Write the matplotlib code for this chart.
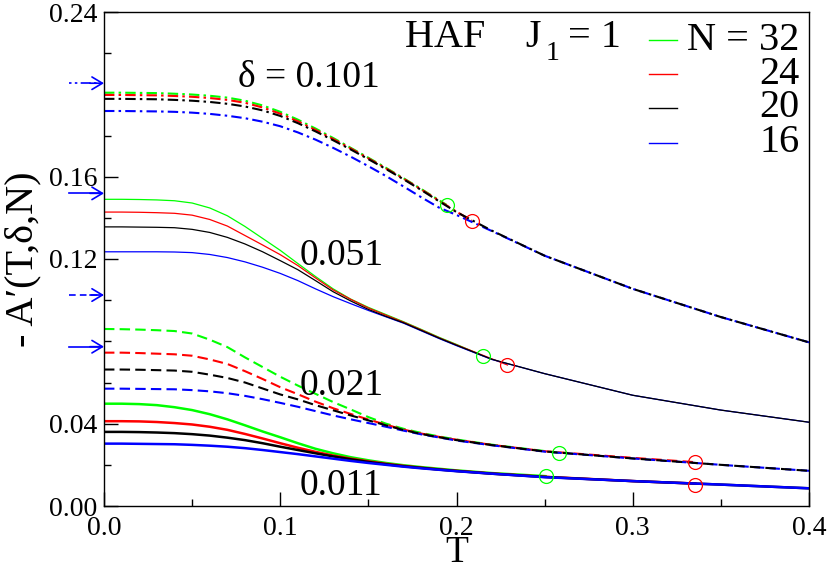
import glob
import matplotlib
matplotlib.use('Agg')
import matplotlib.pyplot as plt
from matplotlib import font_manager as fm
from matplotlib.transforms import blended_transform_factory

# make sure the Times-like serif font is registered
for f in glob.glob('/usr/share/fonts/**/LiberationSerif*.ttf', recursive=True):
    fm.fontManager.addfont(f)
FAMILY = 'Liberation Serif'
plt.rcParams['font.family'] = [FAMILY, 'DejaVu Serif']

t_grid = [0.0, 0.01, 0.02, 0.03, 0.04, 0.05, 0.06, 0.07, 0.08, 0.09, 0.10,
          0.11, 0.12, 0.13, 0.14, 0.15, 0.16, 0.17, 0.18, 0.19, 0.20,
          0.22, 0.25, 0.30, 0.35, 0.40]

# delta = 0.101
t101_32 = t_grid[:20] + [0.1944]
a101_32 = [0.2008, 0.2008, 0.2007, 0.2006, 0.2003, 0.1999, 0.1993, 0.1984, 0.1969, 0.1946, 0.1915,
           0.1877, 0.1834, 0.1788, 0.1740, 0.1692, 0.1643, 0.1592, 0.1540, 0.1486, 0.1463]
t101_24 = t_grid[:21] + [0.2086]
a101_24 = [0.1997, 0.1997, 0.1996, 0.1995, 0.1992, 0.1988, 0.1982, 0.1973, 0.1959, 0.1936, 0.1906,
           0.1869, 0.1827, 0.1783, 0.1737, 0.1689, 0.1640, 0.1590, 0.1538, 0.1484, 0.1430, 0.1386]
a101_20 = [0.1978, 0.1978, 0.1977, 0.1976, 0.1973, 0.1969, 0.1963, 0.1954, 0.1941, 0.1922, 0.1895,
           0.1860, 0.1820, 0.1777, 0.1732, 0.1685, 0.1637, 0.1587, 0.1535, 0.1481, 0.1428,
           0.1338, 0.1216, 0.1055, 0.0918, 0.0795]
a101_16 = [0.1919, 0.1919, 0.1918, 0.1917, 0.1915, 0.1911, 0.1905, 0.1896, 0.1884, 0.1867, 0.1845,
           0.1815, 0.1780, 0.1740, 0.1697, 0.1651, 0.1603, 0.1552, 0.1500, 0.1450, 0.1414,
           0.1336, 0.1216, 0.1055, 0.0918, 0.0795]

# delta = 0.051
t051_32 = t_grid[:21] + [0.2152]
a051_32 = [0.1490, 0.1490, 0.1489, 0.1487, 0.1483, 0.1472, 0.1448, 0.1410, 0.1358, 0.1300, 0.1242,
           0.1178, 0.1115, 0.1055, 0.1005, 0.0965, 0.0930, 0.0895, 0.0858, 0.0820, 0.0785, 0.0729]
t051_24 = t_grid[:21] + [0.2289]
a051_24 = [0.1428, 0.1428, 0.1427, 0.1425, 0.1422, 0.1413, 0.1392, 0.1360, 0.1314, 0.1268, 0.1221,
           0.1168, 0.1108, 0.1050, 0.1004, 0.0962, 0.0927, 0.0893, 0.0856, 0.0818, 0.0783, 0.0685]
a051_20 = [0.1356, 0.1356, 0.1355, 0.1354, 0.1352, 0.1344, 0.1329, 0.1305, 0.1273, 0.1235, 0.1192,
           0.1148, 0.1095, 0.1041, 0.0996, 0.0955, 0.0921, 0.0890, 0.0853, 0.0816, 0.0781,
           0.0713, 0.0643, 0.0538, 0.0466, 0.0407]
a051_16 = [0.1235, 0.1235, 0.1235, 0.1235, 0.1234, 0.1231, 0.1222, 0.1207, 0.1186, 0.1160, 0.1130,
           0.1095, 0.1055, 0.1017, 0.0983, 0.0950, 0.0919, 0.0888, 0.0851, 0.0814, 0.0779,
           0.0712, 0.0643, 0.0538, 0.0466, 0.0407]

# delta = 0.021
t021_32 = t_grid[:23] + [0.2583]
a021_32 = [0.0860, 0.0859, 0.0857, 0.0854, 0.0850, 0.0838, 0.0808, 0.0772, 0.0722, 0.0675, 0.0628,
           0.0585, 0.0545, 0.0505, 0.0469, 0.0432, 0.0400, 0.0375, 0.0355, 0.0338, 0.0323,
           0.0298, 0.0267, 0.0258]
t021_24 = t_grid[:24] + [0.3353]
a021_24 = [0.0745, 0.0745, 0.0743, 0.0740, 0.0737, 0.0730, 0.0712, 0.0690, 0.0655, 0.0617, 0.0577,
           0.0543, 0.0507, 0.0475, 0.0447, 0.0420, 0.0395, 0.0371, 0.0352, 0.0336, 0.0322,
           0.0297, 0.0266, 0.0234, 0.0213]
a021_20 = [0.0663, 0.0663, 0.0662, 0.0660, 0.0658, 0.0652, 0.0638, 0.0622, 0.0600, 0.0571, 0.0542,
           0.0518, 0.0490, 0.0465, 0.0440, 0.0416, 0.0392, 0.0369, 0.0350, 0.0334, 0.0320,
           0.0296, 0.0265, 0.0231, 0.0200, 0.0171]
a021_16 = [0.0570, 0.0570, 0.0569, 0.0568, 0.0567, 0.0563, 0.0557, 0.0548, 0.0535, 0.0519, 0.0501,
           0.0482, 0.0461, 0.0440, 0.0421, 0.0403, 0.0385, 0.0366, 0.0348, 0.0333, 0.0318,
           0.0295, 0.0264, 0.0231, 0.0200, 0.0171]

# delta = 0.011
t011_32 = t_grid[:22] + [0.2505]
a011_32 = [0.0497, 0.0497, 0.0495, 0.0490, 0.0480, 0.0466, 0.0446, 0.0421, 0.0392, 0.0362, 0.0334,
           0.0305, 0.0278, 0.0256, 0.0237, 0.0222, 0.0209, 0.0198, 0.0189, 0.0181, 0.0173,
           0.0160, 0.0145]
t011_24 = t_grid[:24] + [0.3355]
a011_24 = [0.0412, 0.0412, 0.0411, 0.0408, 0.0403, 0.0396, 0.0385, 0.0370, 0.0350, 0.0328, 0.0305,
           0.0283, 0.0263, 0.0245, 0.0230, 0.0217, 0.0205, 0.0195, 0.0186, 0.0178, 0.0171,
           0.0158, 0.0142, 0.0121, 0.0109]
a011_20 = [0.0360, 0.0360, 0.0359, 0.0357, 0.0354, 0.0349, 0.0342, 0.0332, 0.0320, 0.0305, 0.0288,
           0.0272, 0.0256, 0.0241, 0.0227, 0.0214, 0.0203, 0.0193, 0.0185, 0.0177, 0.0170,
           0.0157, 0.0141, 0.0121, 0.0104, 0.0086]
a011_16 = [0.0303, 0.0303, 0.0302, 0.0301, 0.0300, 0.0297, 0.0293, 0.0288, 0.0281, 0.0272, 0.0262,
           0.0252, 0.0241, 0.0230, 0.0219, 0.0209, 0.0200, 0.0191, 0.0183, 0.0176, 0.0169,
           0.0157, 0.0140, 0.0121, 0.0104, 0.0086]

# end points of the N=32 and N=24 curves (open circles)
circ_t_32 = [0.1944, 0.2152, 0.2583, 0.2505]
circ_a_32 = [0.1463, 0.0729, 0.0258, 0.0146]
circ_t_24 = [0.2086, 0.2289, 0.3353, 0.3355]
circ_a_24 = [0.1386, 0.0685, 0.0212, 0.0101]

# T -> 0 limits marked by arrows on the left axis
arrow_levels = [0.2054, 0.1519, 0.1025, 0.0774]

sizes = [32, 24, 20, 16]
colors = {32: '#00ff00', 24: '#ff0000', 20: '#000000', 16: '#0000ff'}

fig = plt.figure(figsize=(8.3, 5.7), dpi=100)
ax = fig.add_axes([104 / 830, 64 / 570, 705 / 830, 494 / 570])

dashdot = (0, (5, 2, 1.2, 2))
dashed = (0, (5, 2.5))
groups = [
    ([(t101_32, a101_32, 32), (t101_24, a101_24, 24), (t_grid, a101_16, 16), (t_grid, a101_20, 20)],
     dashdot, 1.5),
    ([(t051_32, a051_32, 32), (t051_24, a051_24, 24), (t_grid, a051_16, 16), (t_grid, a051_20, 20)],
     '-', 0.9),
    ([(t021_32, a021_32, 32), (t021_24, a021_24, 24), (t_grid, a021_16, 16), (t_grid, a021_20, 20)],
     dashed, 1.5),
    ([(t011_32, a011_32, 32), (t011_24, a011_24, 24), (t_grid, a011_20, 20), (t_grid, a011_16, 16)],
     '-', 1.8),
]
for curves, ls, lw in groups:
    for t, a, n in curves:
        ax.plot(t, a, color=colors[n], ls=ls, lw=lw)

ax.plot(circ_t_32, circ_a_32, 'o', ms=10, mfc='none', mec=colors[32], mew=0.9)
ax.plot(circ_t_24, circ_a_24, 'o', ms=10, mfc='none', mec=colors[24], mew=0.9)

# arrows outside the left axis
trans = blended_transform_factory(ax.transAxes, ax.transData)
arrow_ls = [(0, (1.5, 2, 1.5, 2, 6, 2)), '-', (0, (4, 2.5)), '-']
for lev, als in zip(arrow_levels, arrow_ls):
    ax.plot([-0.049, -0.006], [lev, lev], color='#0000ff', lw=1.2, ls=als,
            transform=trans, clip_on=False)
    ax.annotate('', xy=(0.0, lev), xytext=(-0.02, lev), xycoords=trans, textcoords=trans,
                annotation_clip=False,
                arrowprops=dict(arrowstyle='->,head_length=0.5,head_width=0.3',
                                color='#0000ff', lw=1.2, mutation_scale=15,
                                shrinkA=0, shrinkB=0))

ax.set_xlim(0, 0.4)
ax.set_ylim(0, 0.24)
ax.set_xticks([0.0, 0.1, 0.2, 0.3, 0.4])
ax.set_xticks([0.05, 0.15, 0.25, 0.35], minor=True)
ax.set_xticklabels(['0.0', '0.1', '0.2', '0.3', '0.4'], fontfamily=FAMILY, fontsize=20)
ax.set_yticks([0.0, 0.04, 0.12, 0.16, 0.24])
ax.set_yticklabels(['0.00', '0.04', '0.12', '0.16', '0.24'], fontfamily=FAMILY, fontsize=20)
ax.set_yticks([0.02, 0.06, 0.08, 0.10, 0.14, 0.18, 0.20, 0.22], minor=True)
ax.tick_params(which='both', direction='in', width=1.0)
ax.tick_params(which='major', length=10)
ax.tick_params(which='minor', length=5)
ax.tick_params(axis='x', pad=7)
ax.tick_params(axis='y', pad=5)
for sp in ax.spines.values():
    sp.set_linewidth(1.0)

# annotations
ax.text(0.076, 0.2036, '\u03b4 = 0.101', fontsize=27, va='baseline', family=FAMILY)
ax.text(0.111, 0.117, '0.051', fontsize=27, va='baseline', family=FAMILY)
ax.text(0.111, 0.054, '0.021', fontsize=27, va='baseline', family=FAMILY)
ax.text(0.111, 0.0053, '0.011', fontsize=27, va='baseline', family=FAMILY)
ax.text(0.1708, 0.2230, 'HAF    J', fontsize=29, va='baseline', family=FAMILY)
ax.text(0.2508, 0.2167, '1', fontsize=20, va='baseline', family=FAMILY)
ax.text(0.2633, 0.2230, '= 1', fontsize=29, va='baseline', family=FAMILY)

# legend drawn by hand
legend_labels = ['N = 32', '24', '20', '16']
legend_y = [0.943, 0.874, 0.806, 0.735]
for n, lab, ly in zip(sizes, legend_labels, legend_y):
    ax.plot([0.773, 0.813], [ly, ly], color=colors[n], lw=1.0, transform=ax.transAxes)
    ax.text(0.987, ly, lab, fontsize=29, ha='right', va='center', transform=ax.transAxes,
            family=FAMILY)

fig.text(457 / 830, 1 - 562 / 570, 'T', fontsize=27, ha='center', va='baseline', family=FAMILY)
fig.text(23 / 830, 1 - 259 / 570, '- A\u2032(T,\u03b4,N)', fontsize=29, ha='center', va='center',
         rotation=90, family=[FAMILY, 'DejaVu Serif'])

fig.savefig('out.png', dpi=100)
